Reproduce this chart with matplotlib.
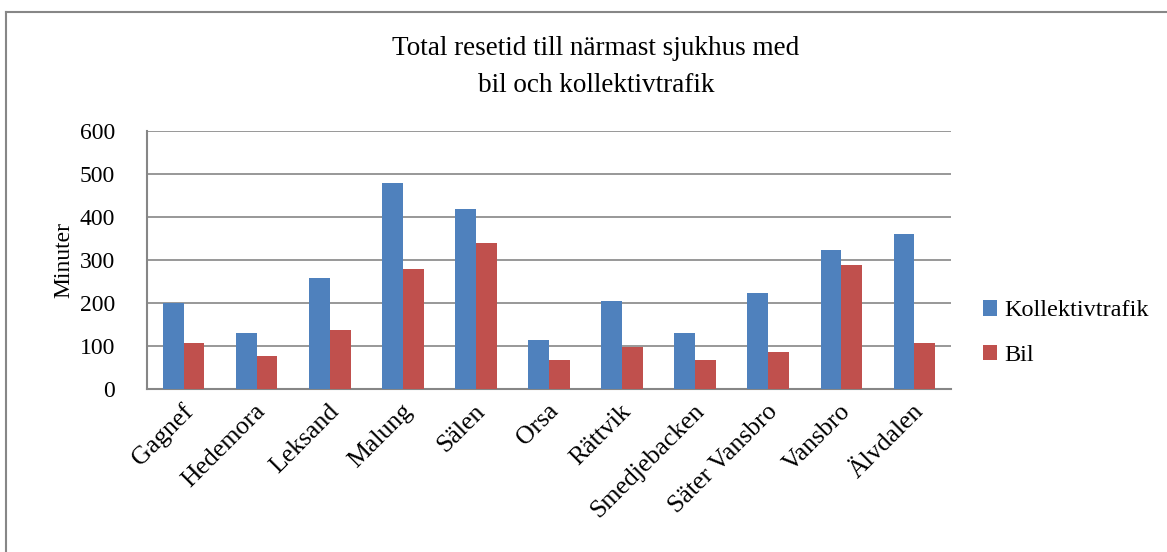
import matplotlib.pyplot as plt
import numpy as np
import matplotlib.transforms as mtrans
from matplotlib.lines import Line2D

places = ['Gagnef', 'Hedemora', 'Leksand', 'Malung', 'Sälen', 'Orsa', 'Rättvik',
          'Smedjebacken', 'Säter Vansbro', 'Vansbro', 'Älvdalen']
kollektiv = [200, 130, 258, 478, 418, 114, 204, 130, 223, 323, 360]
bil = [107, 77, 137, 279, 339, 67, 97, 67, 86, 288, 107]
yticks = [0, 100, 200, 300, 400, 500, 600]

plt.rcParams['font.family'] = ['Liberation Serif', 'DejaVu Serif']

W, H = 1167, 552
fig = plt.figure(figsize=(W / 100, H / 100), dpi=100)
ax = fig.add_axes([147 / W, 1 - 389 / H, (951 - 147) / W, (389 - 131) / H])

x = np.arange(len(places))
bw = 0.285
ax.bar(x - bw / 2, kollektiv, bw, color='#4F81BD', label='Kollektivtrafik', zorder=3)
ax.bar(x + bw / 2, bil, bw, color='#C0504D', label='Bil', zorder=3)

ax.set_xlim(-0.5, len(places) - 0.5)
ax.set_ylim(0, 600)
ax.set_yticks(yticks)
ax.set_yticklabels([str(v) for v in yticks], fontsize=17)
ax.yaxis.grid(True, color='#868686', linewidth=1.2, zorder=0)
ax.set_axisbelow(True)
ax.tick_params(axis='y', length=0, pad=23)
ax.tick_params(axis='x', length=0, pad=8)
for s in ['top', 'right']:
    ax.spines[s].set_visible(False)
for s in ['left', 'bottom']:
    ax.spines[s].set_color('#868686')
    ax.spines[s].set_linewidth(1.5)

ax.set_xticks(x)
ax.set_xticklabels(places, rotation=45, ha='right', rotation_mode='anchor', fontsize=18.5)
offset = mtrans.ScaledTranslation(-0.02, 0, fig.dpi_scale_trans)
for lbl in ax.get_xticklabels():
    lbl.set_transform(lbl.get_transform() + offset)

ax.set_ylabel('Minuter', fontsize=17, labelpad=4)

fig.text(596 / W, 1 - 67 / H, 'Total resetid till närmast sjukhus med\nbil och kollektivtrafik',
         ha='center', va='center', fontsize=19.5, linespacing=1.6)

ax.legend(loc='center left', bbox_to_anchor=(1.0, 0.217), frameon=False, fontsize=17.5,
          handlelength=0.6, handleheight=0.6, handletextpad=0.3, labelspacing=0.95, borderaxespad=0.9)

fig.add_artist(Line2D([6 / W, 6 / W], [0, 1 - 12 / H], color='#878787', linewidth=1.5))
fig.add_artist(Line2D([6 / W, 1], [1 - 12 / H, 1 - 12 / H], color='#878787', linewidth=1.5))

fig.savefig('out.png', dpi=100)
